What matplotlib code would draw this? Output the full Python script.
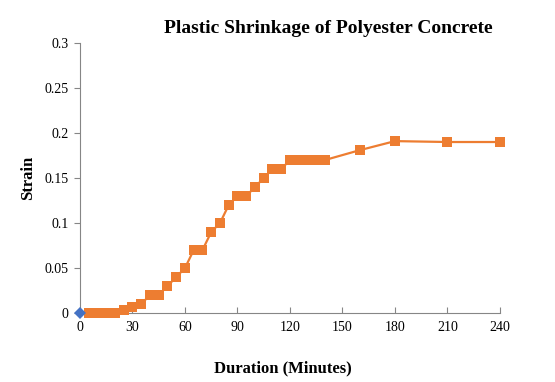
import matplotlib
matplotlib.use("Agg")
import matplotlib.pyplot as plt

# plastic shrinkage readings (minutes, strain)
minutes = [5, 10, 15, 20, 25, 30, 35, 40, 45, 50, 55, 60, 65, 70, 75, 80, 85, 90, 95,
           100, 105, 110, 115, 120, 125, 130, 135, 140, 160, 180, 210, 240]
strain = [0, 0, 0, 0, 0.003, 0.007, 0.01, 0.02, 0.02, 0.03, 0.04, 0.05, 0.07, 0.07,
          0.09, 0.10, 0.12, 0.13, 0.13, 0.14, 0.15, 0.16, 0.16, 0.17, 0.17, 0.17,
          0.17, 0.17, 0.181, 0.191, 0.19, 0.19]
origin_x = [0]
origin_y = [0]

x_ticks = [0, 30, 60, 90, 120, 150, 180, 210, 240]
y_ticks = [0, 0.05, 0.1, 0.15, 0.2, 0.25, 0.3]
y_labels = ["0", "0.05", "0.1", "0.15", "0.2", "0.25", "0.3"]

plt.rcParams["font.family"] = ["Liberation Serif", "DejaVu Serif"]

fig = plt.figure(figsize=(5.55, 3.82), dpi=100)
ax = fig.add_axes([0.1441, 0.1806, 0.7568, 0.7068])

ax.plot(minutes, strain, color="#ED7D31", lw=1.6, marker="s", ms=7.2,
        markeredgewidth=0, clip_on=False, zorder=3)
ax.plot(origin_x, origin_y, color="#4472C4", marker="D", ms=6.5, lw=0,
        markeredgewidth=0, clip_on=False, zorder=4)

ax.set_xlim(0, 240)
ax.set_ylim(0, 0.3)
ax.set_xticks(x_ticks)
ax.set_yticks(y_ticks)
ax.set_yticklabels(y_labels)

for s in ["top", "right"]:
    ax.spines[s].set_visible(False)
for s in ["left", "bottom"]:
    ax.spines[s].set_color("#868686")
    ax.spines[s].set_linewidth(0.8)

ax.tick_params(axis="x", direction="in", length=4, color="#868686", pad=6,
               labelsize=10)
ax.tick_params(axis="y", direction="out", length=4, color="#868686", pad=4,
               labelsize=10)

fig.text(0.592, 0.925, "Plastic Shrinkage of Polyester Concrete", ha="center",
         va="center", fontweight="bold", fontsize=14)
fig.text(0.51, 0.035, "Duration (Minutes)", ha="center", va="center",
         fontweight="bold", fontsize=12)
fig.text(0.05, 0.535, "Strain", ha="center", va="center", rotation=90,
         fontweight="bold", fontsize=12)

fig.savefig("out.png", dpi=100)
